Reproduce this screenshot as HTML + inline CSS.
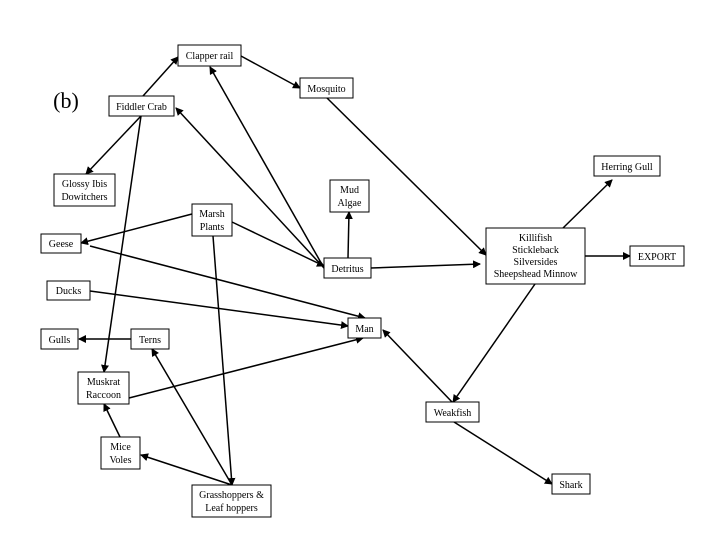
<!DOCTYPE html>
<html><head><meta charset="utf-8"><style>
body{margin:0;background:#fff}
svg{display:block}
text{font-family:"Liberation Serif",serif;font-size:10px;fill:#000;text-anchor:middle}
rect{fill:#fff;stroke:#000;stroke-width:1}
line{stroke:#000;stroke-width:1.5}
</style></head><body>
<svg width="720" height="540" viewBox="0 0 720 540">
<defs><marker id="a" markerWidth="8" markerHeight="8" refX="7" refY="4" orient="auto" markerUnits="userSpaceOnUse"><path d="M0,0L8,4L0,8z" fill="#000"/></marker></defs>
<g marker-end="url(#a)">
<line x1="143" y1="96" x2="178" y2="57"/>
<line x1="241" y1="56" x2="300" y2="88"/>
<line x1="327" y1="98" x2="486" y2="255"/>
<line x1="141" y1="116" x2="86" y2="174"/>
<line x1="141" y1="116" x2="104" y2="372"/>
<line x1="324" y1="268" x2="176" y2="108"/>
<line x1="324" y1="268" x2="210" y2="67"/>
<line x1="232" y1="222" x2="324" y2="266"/>
<line x1="348" y1="258" x2="349" y2="212"/>
<line x1="371" y1="268" x2="480" y2="264"/>
<line x1="192" y1="214" x2="81" y2="243"/>
<line x1="90" y1="246" x2="365" y2="318"/>
<line x1="90" y1="291" x2="348" y2="326"/>
<line x1="129" y1="398" x2="363" y2="338"/>
<line x1="213" y1="236" x2="232" y2="485"/>
<line x1="232" y1="485" x2="152" y2="349"/>
<line x1="232" y1="485" x2="141" y2="455"/>
<line x1="120" y1="437" x2="104" y2="404"/>
<line x1="131" y1="339" x2="79" y2="339"/>
<line x1="563" y1="228" x2="612" y2="180"/>
<line x1="585" y1="256" x2="630" y2="256"/>
<line x1="535" y1="284" x2="453" y2="402"/>
<line x1="452" y1="402" x2="383" y2="330"/>
<line x1="454" y1="422" x2="552" y2="484"/>
</g>
<text x="66" y="108" style="font-size:22px">(b)</text>
<rect x="178" y="45" width="63" height="21"/><text x="209.5" y="59">Clapper rail</text>
<rect x="300" y="78" width="53" height="20"/><text x="326.5" y="92">Mosquito</text>
<rect x="109" y="96" width="65" height="20"/><text x="141.5" y="110">Fiddler Crab</text>
<rect x="54" y="174" width="61" height="32"/><text x="84.5" y="187">Glossy Ibis</text><text x="84.5" y="200">Dowitchers</text>
<rect x="192" y="204" width="40" height="32"/><text x="212" y="217">Marsh</text><text x="212" y="230">Plants</text>
<rect x="41" y="234" width="40" height="19"/><text x="61" y="247">Geese</text>
<rect x="330" y="180" width="39" height="32"/><text x="349.5" y="193">Mud</text><text x="349.5" y="206">Algae</text>
<rect x="324" y="258" width="47" height="20"/><text x="347.5" y="272">Detritus</text>
<rect x="486" y="228" width="99" height="56"/><text x="535.5" y="241">Killifish</text><text x="535.5" y="253">Stickleback</text><text x="535.5" y="265">Silversides</text><text x="535.5" y="277">Sheepshead Minnow</text>
<rect x="594" y="156" width="66" height="20"/><text x="627" y="170">Herring Gull</text>
<rect x="630" y="246" width="54" height="20"/><text x="657" y="260">EXPORT</text>
<rect x="47" y="281" width="43" height="19"/><text x="68.5" y="294">Ducks</text>
<rect x="348" y="318" width="33" height="20"/><text x="364.5" y="332">Man</text>
<rect x="41" y="329" width="37" height="20"/><text x="59.5" y="343">Gulls</text>
<rect x="131" y="329" width="38" height="20"/><text x="150" y="343">Terns</text>
<rect x="78" y="372" width="51" height="32"/><text x="103.5" y="385">Muskrat</text><text x="103.5" y="398">Raccoon</text>
<rect x="426" y="402" width="53" height="20"/><text x="452.5" y="416">Weakfish</text>
<rect x="101" y="437" width="39" height="32"/><text x="120.5" y="450">Mice</text><text x="120.5" y="463">Voles</text>
<rect x="552" y="474" width="38" height="20"/><text x="571" y="488">Shark</text>
<rect x="192" y="485" width="79" height="32"/><text x="231.5" y="498">Grasshoppers &amp;</text><text x="231.5" y="511">Leaf hoppers</text>
</svg>
</body></html>
